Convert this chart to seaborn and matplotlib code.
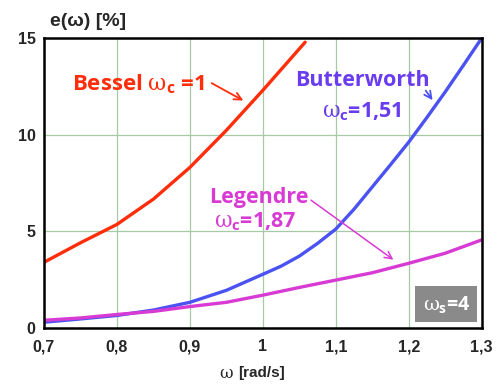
import matplotlib
matplotlib.use("Agg")
import matplotlib.pyplot as plt
import matplotlib.patches as mpatches
import seaborn as sns
import pandas as pd

omega = [0.70, 0.75, 0.80, 0.85, 0.90, 0.95, 1.00, 1.058]
bessel = [3.40, 4.41, 5.36, 6.67, 8.31, 10.23, 12.30, 14.79]

omega_b = [0.70, 0.75, 0.80, 0.85, 0.90, 0.95, 1.00, 1.025, 1.05, 1.075, 1.10, 1.125,
           1.15, 1.175, 1.20, 1.225, 1.25, 1.275, 1.30]
butter = [0.30, 0.47, 0.65, 0.93, 1.33, 1.95, 2.78, 3.20, 3.72, 4.38, 5.12, 6.15,
          7.30, 8.45, 9.62, 10.90, 12.22, 13.60, 15.0]

omega_l = [0.70, 0.75, 0.80, 0.85, 0.90, 0.95, 1.00, 1.05, 1.10, 1.15, 1.20, 1.25, 1.30]
legendre = [0.40, 0.52, 0.70, 0.86, 1.11, 1.33, 1.70, 2.10, 2.48, 2.86, 3.35, 3.87, 4.56]

xticks = [0.7, 0.8, 0.9, 1.0, 1.1, 1.2, 1.3]
xticklabels = ["0,7", "0,8", "0,9", "1", "1,1", "1,2", "1,3"]
yticks = [0, 5, 10, 15]

RED = "#ff2d0a"
BLUE = "#4a52f2"
BLUE_T = "#6a3cf0"
MAG = "#d83ad4"

sns.set_style("white")
plt.rcParams['font.family'] = ['Open Sans', 'DejaVu Sans']
plt.rcParams['mathtext.fontset'] = 'custom'
plt.rcParams['mathtext.it'] = 'DejaVu Serif'
plt.rcParams['mathtext.rm'] = 'Open Sans:bold'
plt.rcParams['mathtext.bf'] = 'Open Sans:bold'

fig = plt.figure(figsize=(5.02, 3.85), dpi=100)
ax = fig.add_axes([0.0876, 0.148, 0.872, 0.753])

df1 = pd.DataFrame({"w": omega, "e": bessel})
df2 = pd.DataFrame({"w": omega_b, "b": butter})
df3 = pd.DataFrame({"w": omega_l, "l": legendre})
sns.lineplot(data=df1, x="w", y="e", ax=ax, color=RED, lw=2.4)
sns.lineplot(data=df2, x="w", y="b", ax=ax, color=BLUE, lw=2.4)
sns.lineplot(data=df3, x="w", y="l", ax=ax, color=MAG, lw=2.4)

ax.set_xlim(0.7, 1.3)
ax.set_ylim(0, 15)
ax.set_xticks(xticks)
ax.set_xticklabels(xticklabels)
ax.set_yticks(yticks)
ax.grid(True, color="#a6c9a6", lw=0.9)
ax.set_axisbelow(True)
for s in ax.spines.values():
    s.set_color("black")
    s.set_linewidth(1.8)
ax.tick_params(axis="both", labelsize=11.5, length=0)
ax.tick_params(axis="x", pad=8)
ax.tick_params(axis="y", pad=6)
for lab in ax.get_xticklabels() + ax.get_yticklabels():
    lab.set_fontweight("bold")
    lab.set_family(["Liberation Sans"])
ax.set_xlabel("")
ax.set_ylabel("")

fig.text(0.099, 0.945, "e(ω) [%]", fontsize=14, fontweight="bold",
         family=["Liberation Sans"], va="center", ha="left")
fig.text(0.437, 0.031, "ω", fontsize=12, family=["DejaVu Serif"],
         va="center", ha="left")
fig.text(0.474, 0.031, "[rad/s]", fontsize=11, fontweight="bold",
         family=["Liberation Sans"], va="center", ha="left")

TFS = 15.5
ax.text(0.738, 12.31, r"Bessel $\omega_{\mathrm{c}}$ =1", color=RED, fontsize=16,
        fontweight="bold", va="baseline", ha="left")
ax.annotate("", xy=(0.9765, 11.70), xytext=(0.9265, 12.74),
            arrowprops=dict(arrowstyle="->", color=RED, lw=1.3, mutation_scale=13))

ax.text(1.1366, 12.54, "Butterworth", color=BLUE_T, fontsize=TFS,
        fontweight="bold", va="baseline", ha="center")
ax.text(1.1363, 10.92, r"$\omega_{\mathrm{c}}$=1,51", color=BLUE_T, fontsize=TFS,
        fontweight="bold", va="baseline", ha="center")
ax.annotate("", xy=(1.2348, 11.67), xytext=(1.2211, 12.40),
            arrowprops=dict(arrowstyle="->", color=BLUE, lw=1.3, mutation_scale=13))

ax.text(0.9265, 6.49, "Legendre", color=MAG, fontsize=TFS,
        fontweight="bold", va="baseline", ha="left")
ax.text(0.9333, 5.22, r"$\omega_{\mathrm{c}}$=1,87", color=MAG, fontsize=TFS,
        fontweight="bold", va="baseline", ha="left")
ax.annotate("", xy=(1.182, 3.45), xytext=(1.0629, 6.70),
            arrowprops=dict(arrowstyle="->", color=MAG, lw=1.1, mutation_scale=13))

ax.add_patch(mpatches.Rectangle((1.2089, 0.33), 0.0846, 1.85, fc="#8a8a8a",
                                ec="none", zorder=3))
ax.text(1.2512, 1.22, r"$\omega_{\mathrm{s}}$=4", color="white", fontsize=14,
        fontweight="bold", va="center", ha="center", zorder=4)

fig.savefig("out.png", dpi=100)
